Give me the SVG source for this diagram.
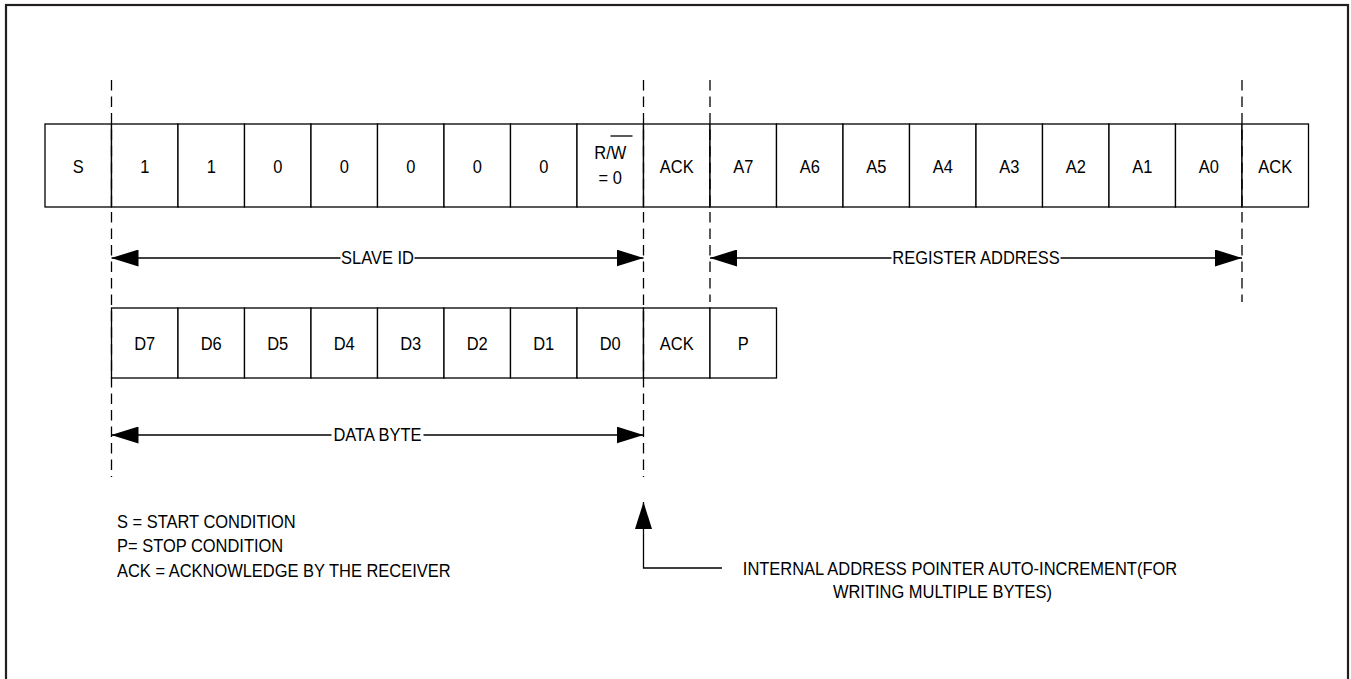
<svg xmlns="http://www.w3.org/2000/svg" width="1351" height="679" viewBox="0 0 1351 679">
<defs>
<style>
.box{fill:#fff;stroke:#000;stroke-width:1.3}
.t{font-family:"Liberation Sans",Arial,sans-serif;font-size:18.5px;fill:#000;text-anchor:middle;transform-box:fill-box;transform-origin:center;transform:scaleX(0.89)}
.ts{font-family:"Liberation Sans",Arial,sans-serif;font-size:18.5px;fill:#000;transform-box:fill-box;transform-origin:left center;transform:scaleX(0.89)}
.dash{stroke:#000;stroke-width:1.3;stroke-dasharray:10.5 6;fill:none}
.ln{stroke:#000;stroke-width:1.3;fill:none}
</style>
<marker id="ah" markerUnits="userSpaceOnUse" markerWidth="27" markerHeight="17" refX="27" refY="8.5" orient="auto-start-reverse">
<path d="M0,0 L27,8.5 L0,17 Z" fill="#000"/>
</marker>
</defs>
<rect x="0" y="0" width="1351" height="679" fill="#fff"/>
<rect x="6" y="5" width="1342" height="700" fill="none" stroke="#231f20" stroke-width="2.2"/>

<g id="row1">
<g id="n-S"><rect class="box" x="45" y="124" width="66.5" height="83"/><text class="t" x="78.25" y="173">S</text></g>
<g id="n-b7"><rect class="box" x="111.5" y="124" width="66.5" height="83"/><text class="t" x="144.75" y="173">1</text></g>
<g id="n-b6"><rect class="box" x="178" y="124" width="66.5" height="83"/><text class="t" x="211.25" y="173">1</text></g>
<g id="n-b5"><rect class="box" x="244.5" y="124" width="66.5" height="83"/><text class="t" x="277.75" y="173">0</text></g>
<g id="n-b4"><rect class="box" x="311" y="124" width="66.5" height="83"/><text class="t" x="344.25" y="173">0</text></g>
<g id="n-b3"><rect class="box" x="377.5" y="124" width="66.5" height="83"/><text class="t" x="410.75" y="173">0</text></g>
<g id="n-b2"><rect class="box" x="444" y="124" width="66.5" height="83"/><text class="t" x="477.25" y="173">0</text></g>
<g id="n-b1"><rect class="box" x="510.5" y="124" width="66.5" height="83"/><text class="t" x="543.75" y="173">0</text></g>
<g id="n-rw"><rect class="box" x="577" y="124" width="66.5" height="83"/><text class="t" x="610.25" y="159">R/W</text><line class="ln" x1="610.5" y1="136" x2="632.5" y2="136"/><text class="t" x="610.25" y="184">= 0</text></g>
<g id="n-ack1"><rect class="box" x="643.5" y="124" width="66.5" height="83"/><text class="t" x="676.75" y="173">ACK</text></g>
<g id="n-a7"><rect class="box" x="710" y="124" width="66.5" height="83"/><text class="t" x="743.25" y="173">A7</text></g>
<g id="n-a6"><rect class="box" x="776.5" y="124" width="66.5" height="83"/><text class="t" x="809.75" y="173">A6</text></g>
<g id="n-a5"><rect class="box" x="843" y="124" width="66.5" height="83"/><text class="t" x="876.25" y="173">A5</text></g>
<g id="n-a4"><rect class="box" x="909.5" y="124" width="66.5" height="83"/><text class="t" x="942.75" y="173">A4</text></g>
<g id="n-a3"><rect class="box" x="976" y="124" width="66.5" height="83"/><text class="t" x="1009.25" y="173">A3</text></g>
<g id="n-a2"><rect class="box" x="1042.5" y="124" width="66.5" height="83"/><text class="t" x="1075.75" y="173">A2</text></g>
<g id="n-a1"><rect class="box" x="1109" y="124" width="66.5" height="83"/><text class="t" x="1142.25" y="173">A1</text></g>
<g id="n-a0"><rect class="box" x="1175.5" y="124" width="66.5" height="83"/><text class="t" x="1208.75" y="173">A0</text></g>
<g id="n-ack2"><rect class="box" x="1242" y="124" width="66.5" height="83"/><text class="t" x="1275.25" y="173">ACK</text></g>
</g>

<g id="row2">
<g id="n-d7"><rect class="box" x="111.5" y="308" width="66.5" height="70"/><text class="t" x="144.75" y="350">D7</text></g>
<g id="n-d6"><rect class="box" x="178" y="308" width="66.5" height="70"/><text class="t" x="211.25" y="350">D6</text></g>
<g id="n-d5"><rect class="box" x="244.5" y="308" width="66.5" height="70"/><text class="t" x="277.75" y="350">D5</text></g>
<g id="n-d4"><rect class="box" x="311" y="308" width="66.5" height="70"/><text class="t" x="344.25" y="350">D4</text></g>
<g id="n-d3"><rect class="box" x="377.5" y="308" width="66.5" height="70"/><text class="t" x="410.75" y="350">D3</text></g>
<g id="n-d2"><rect class="box" x="444" y="308" width="66.5" height="70"/><text class="t" x="477.25" y="350">D2</text></g>
<g id="n-d1"><rect class="box" x="510.5" y="308" width="66.5" height="70"/><text class="t" x="543.75" y="350">D1</text></g>
<g id="n-d0"><rect class="box" x="577" y="308" width="66.5" height="70"/><text class="t" x="610.25" y="350">D0</text></g>
<g id="n-ack3"><rect class="box" x="643.5" y="308" width="66.5" height="70"/><text class="t" x="676.75" y="350">ACK</text></g>
<g id="n-P"><rect class="box" x="710" y="308" width="66.5" height="70"/><text class="t" x="743.25" y="350">P</text></g>
</g>

<g id="connectors">
<line class="dash" x1="111.5" y1="80" x2="111.5" y2="477"/>
<line class="dash" x1="643.5" y1="80" x2="643.5" y2="477"/>
<line class="dash" x1="710" y1="80" x2="710" y2="302"/>
<line class="dash" x1="1242" y1="80" x2="1242" y2="302"/>

<line class="ln" x1="340.5" y1="258" x2="111.5" y2="258" marker-end="url(#ah)"/>
<line class="ln" x1="414.5" y1="258" x2="643.5" y2="258" marker-end="url(#ah)"/>
<text class="t" x="377.5" y="264">SLAVE ID</text>

<line class="ln" x1="891.5" y1="258" x2="710" y2="258" marker-end="url(#ah)"/>
<line class="ln" x1="1060.5" y1="258" x2="1242" y2="258" marker-end="url(#ah)"/>
<text class="t" x="976" y="264">REGISTER ADDRESS</text>

<line class="ln" x1="331.5" y1="435" x2="111.5" y2="435" marker-end="url(#ah)"/>
<line class="ln" x1="423.5" y1="435" x2="643.5" y2="435" marker-end="url(#ah)"/>
<text class="t" x="377.5" y="441">DATA BYTE</text>

<path class="ln" d="M722,568 H643.5 V502" marker-end="url(#ah)"/>
</g>

<g id="legend">
<text class="ts" x="117" y="528">S = START CONDITION</text>
<text class="ts" x="117" y="552">P= STOP CONDITION</text>
<text class="ts" x="117" y="577">ACK = ACKNOWLEDGE BY THE RECEIVER</text>
</g>
<g id="note">
<text class="t" x="960" y="575">INTERNAL ADDRESS POINTER AUTO-INCREMENT(FOR</text>
<text class="t" x="942.5" y="598">WRITING MULTIPLE BYTES)</text>
</g>
</svg>
